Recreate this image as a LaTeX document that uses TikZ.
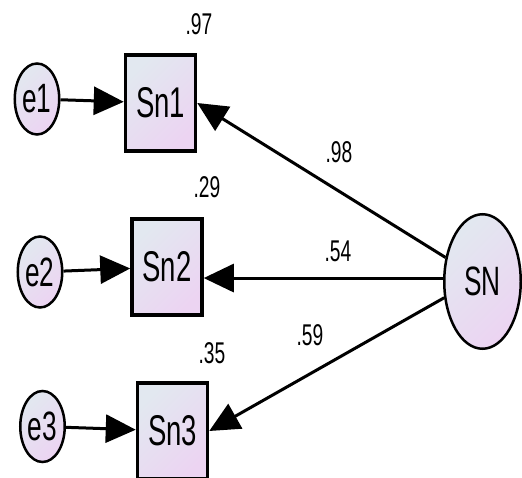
\documentclass[tikz,border=0pt]{standalone}
\usepackage{fontspec}
\setmainfont{Liberation Sans}[FakeStretch=0.64]
\usetikzlibrary{arrows.meta, shapes.geometric}
\definecolor{shadeA}{RGB}{226,232,240}
\definecolor{shadeB}{RGB}{236,212,242}

\begin{document}
\begin{tikzpicture}[x=1pt, y=1pt,
    obsbox/.style={draw, line width=3.5pt, rectangle, inner sep=0pt,
        minimum width=70pt, minimum height=96pt,
        top color=shadeA, bottom color=shadeB, shading angle=45,
        font=\fontsize{43}{43}\selectfont},
    errnode/.style={draw, line width=2.5pt, ellipse, inner sep=0pt,
        minimum width=44.5pt, minimum height=71pt,
        top color=shadeA, bottom color=shadeB, shading angle=45,
        font=\fontsize{41}{41}\selectfont},
    latnode/.style={draw, line width=2.5pt, ellipse, inner sep=0pt,
        minimum width=76.5pt, minimum height=134.5pt,
        top color=shadeA, bottom color=shadeB, shading angle=45,
        font=\fontsize{41}{41}\selectfont},
    coef/.style={font=\fontsize{30}{30}\selectfont},
    arr/.style={-{Triangle[length=30pt,width=28pt]}, line width=3pt}]
    \useasboundingbox (0,0) rectangle (522,477);

    % Indicators
    \node[obsbox] (Sn1) at (160.5,374) {Sn1};
    \node[obsbox] (Sn2) at (167,210) {Sn2};
    \node[obsbox] (Sn3) at (172.5,46) {Sn3};

    % Errors
    \node[errnode] (e1) at (37,378) {e1};
    \node[errnode] (e2) at (40,205) {e2};
    \node[errnode] (e3) at (42.5,50.5) {e3};

    % Latent factor
    \node[latnode] (SN) at (482.5,195.5) {SN};

    % Paths
    \draw[arr] (e1) -- (Sn1);
    \draw[arr] (e2) -- (Sn2);
    \draw[arr] (e3) -- (Sn3);
    \draw[arr] (SN.147) -- (Sn1.east);
    \draw[arr] (SN.175) -- (SN.175 -| Sn2.east);
    \draw[arr] (SN.203) -- (Sn3.east);

    % Estimates
    \node[coef] (r1) at (199,453) {.97};
    \node[coef] (r2) at (207,290) {.29};
    \node[coef] (r3) at (212,124) {.35};
    \node[coef] (l1) at (339,325) {.98};
    \node[coef] (l2) at (338,226) {.54};
    \node[coef] (l3) at (310,142) {.59};
\end{tikzpicture}
\end{document}
